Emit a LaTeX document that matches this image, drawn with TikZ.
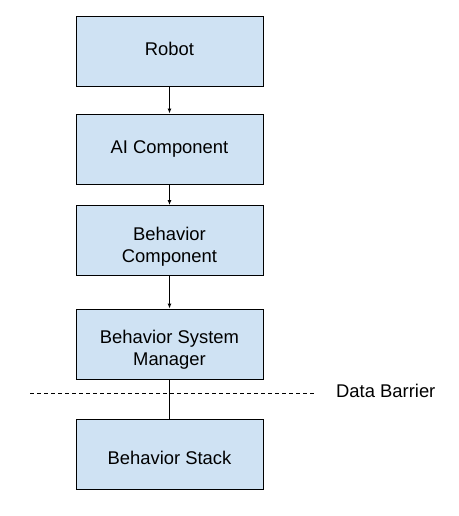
\documentclass[tikz,border=0pt]{standalone}
\usepackage{fontspec}
\setmainfont{Liberation Sans}
\usetikzlibrary{arrows.meta}
\definecolor{boxfill}{HTML}{CFE2F3}
\begin{document}
\begin{tikzpicture}[x=1pt,y=-1pt,
  blk/.style={draw=black,line width=0.9pt,fill=boxfill,minimum width=187pt,minimum height=70pt,inner sep=0pt},
  txt/.style={inner sep=0pt,align=center,font=\fontsize{18.4pt}{22pt}\selectfont},
  one/.style={txt,text height=13.4pt,text depth=3.9pt},
  conn/.style={draw=black,line width=0.9pt},
  arr/.style={conn,-{Latex[length=5pt,width=4pt]}}]
\useasboundingbox (0,0) rectangle (458,516);
\node[blk] (robot) at (169.5,51) {};
\node[blk] (ai) at (169.5,149) {};
\node[blk] (bc) at (169.5,240.5) {};
\node[blk] (bsm) at (169.5,344) {};
\node[blk] (bs) at (169.5,454.3) {};
\node[one] (robott) at (robot.center) {Robot};
\node[one] (ait) at (ai.center) {AI Component};
\node[txt,yshift=-6pt] (bct) at (bc.center) {Behavior\\Component};
\node[txt,yshift=-6pt] (bsmt) at (bsm.center) {Behavior System\\Manager};
\node[one,yshift=-5pt] (bst) at (bs.center) {Behavior Stack};
\coordinate (dl) at (30,393);
\coordinate (dr) at (315,393);
\node[anchor=west,one] (db) at (336,393) {Data Barrier};
\draw[arr] (robot) -- (ai);
\draw[arr] (ai) -- (bc);
\draw[arr] (bc) -- (bsm);
\draw[conn,dash pattern=on 4pt off 3pt,line width=0.7pt] (dl) -- (dr);
\draw[conn] (bsm) -- (bs);
\end{tikzpicture}
\end{document}
